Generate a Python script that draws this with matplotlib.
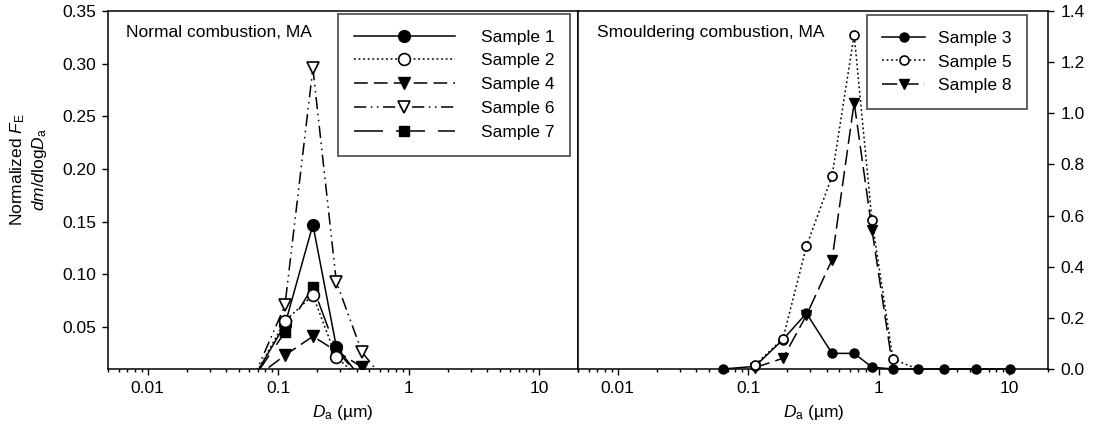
import numpy as np
import matplotlib
matplotlib.use("Agg")
import matplotlib.pyplot as plt
from matplotlib.ticker import FixedLocator, FuncFormatter

plt.rcParams['font.family'] = ['Liberation Sans', 'DejaVu Sans']
plt.rcParams['mathtext.fontset'] = 'custom'
plt.rcParams['mathtext.rm'] = 'Liberation Sans'
plt.rcParams['mathtext.it'] = 'Liberation Sans:italic'

# impactor stage diameters (um)
stage_d = [0.064, 0.113, 0.185, 0.28, 0.44, 0.65, 0.89, 1.29, 2.0, 3.2, 5.6, 10.2]

# normal combustion (first six stages)
normal_d = stage_d[:6]
sample1 = [0.0, 0.052, 0.147, 0.031, 0.0, 0.0]
sample2 = [0.0, 0.0555, 0.080, 0.021, 0.0, 0.0]
sample4 = [0.0, 0.023, 0.041, 0.027, 0.0117, 0.0]
sample6 = [0.0, 0.0704, 0.2955, 0.0926, 0.026, 0.0]
sample7 = [0.0, 0.045, 0.088, 0.028, 0.0, 0.0]

# smouldering combustion
sample3 = [0.0, 0.01, 0.115, 0.218, 0.061, 0.061, 0.007, 0.0, 0.0, 0.0, 0.0, 0.0]
sample5_d = stage_d[1:9]
sample5 = [0.016, 0.118, 0.48, 0.754, 1.307, 0.582, 0.038, 0.0]
sample8_d = stage_d[1:8]
sample8 = [0.005, 0.042, 0.21, 0.427, 1.042, 0.545, 0.0]

fig = plt.figure(figsize=(10.99, 4.30), dpi=100)
ax1 = fig.add_axes([0.0985, 0.1419, 0.4277, 0.8326])
ax2 = fig.add_axes([0.5262, 0.1419, 0.4277, 0.8326])

lw = 1.1
fs = 12.5

# left panel
ax1.plot(normal_d, sample7, color='black', lw=lw, dashes=(19, 8.5), marker='s', ms=7,
         mfc='black', mec='black', label='Sample 7', zorder=2)
ax1.plot(normal_d, sample4, color='black', lw=lw, dashes=(9, 4), marker='v', ms=8.5,
         mfc='black', mec='black', label='Sample 4', zorder=3)
ax1.plot(normal_d, sample1, color='black', lw=lw, ls='-', marker='o', ms=8.5,
         mfc='black', mec='black', label='Sample 1', zorder=4)
ax1.plot(normal_d, sample2, color='black', lw=lw, dashes=(1.2, 1.8), marker='o', ms=8.5,
         mfc='white', mec='black', mew=1.2, label='Sample 2', zorder=5)
ax1.plot(normal_d, sample6, color='black', lw=lw, dashes=(8, 3, 1, 3, 1, 3), marker='v', ms=8.5,
         mfc='white', mec='black', mew=1.2, label='Sample 6', zorder=6)

ax1.set_xscale('log')
ax1.set_xlim(0.005, 20)
ax1.set_ylim(0.01, 0.35)
ax1.yaxis.set_major_locator(FixedLocator(np.arange(0.05, 0.351, 0.05)))
ax1.yaxis.set_major_formatter(FuncFormatter(lambda v, p: f"{v:.2f}"))
ax1.text(0.038, 0.94, 'Normal combustion, MA', transform=ax1.transAxes,
         fontsize=fs, va='center', ha='left')

h, l = ax1.get_legend_handles_labels()
order = [2, 3, 1, 4, 0]
leg1 = ax1.legend([h[i] for i in order], [l[i] for i in order], loc='upper right',
                  bbox_to_anchor=(0.982, 0.992), borderaxespad=0, fontsize=fs,
                  handlelength=5.8, handletextpad=1.5, labelspacing=0.5,
                  borderpad=0.9, fancybox=False, framealpha=1)
leg1.get_frame().set_edgecolor('#555555')
leg1.get_frame().set_linewidth(1.3)

# right panel
ax2.plot(stage_d, sample3, color='black', lw=lw, ls='-', marker='o', ms=6.5,
         mfc='black', mec='black', label='Sample 3', zorder=3, clip_on=False)
ax2.plot(sample8_d, sample8, color='black', lw=lw, dashes=(10, 4), marker='v', ms=6.5,
         mfc='black', mec='black', label='Sample 8', zorder=4, clip_on=False,
         markevery=list(range(len(sample8) - 1)))
ax2.plot(sample5_d, sample5, color='black', lw=lw, dashes=(1.2, 1.8), marker='o', ms=6.5,
         mfc='white', mec='black', mew=1.2, label='Sample 5', zorder=5, clip_on=False,
         markevery=list(range(len(sample5) - 1)))

ax2.set_xscale('log')
ax2.set_xlim(0.005, 20)
ax2.set_ylim(0, 1.4)
ax2.yaxis.tick_right()
ax2.yaxis.set_major_locator(FixedLocator(np.arange(0, 1.41, 0.2)))
ax2.yaxis.set_major_formatter(FuncFormatter(lambda v, p: f"{v:.1f}"))
ax2.text(0.04, 0.94, 'Smouldering combustion, MA', transform=ax2.transAxes,
         fontsize=fs, va='center', ha='left')

h, l = ax2.get_legend_handles_labels()
order = [0, 2, 1]
leg2 = ax2.legend([h[i] for i in order], [l[i] for i in order], loc='upper right',
                  bbox_to_anchor=(0.955, 0.989), borderaxespad=0, fontsize=fs,
                  handlelength=2.45, handletextpad=0.75, labelspacing=0.5,
                  borderpad=0.9, fancybox=False, framealpha=1)
leg2.get_frame().set_edgecolor('#555555')
leg2.get_frame().set_linewidth(1.3)

for ax in (ax1, ax2):
    ax.xaxis.set_major_formatter(FuncFormatter(lambda v, p: f"{v:g}"))
    ax.tick_params(which='major', direction='out', length=4.5, width=1, labelsize=fs, pad=4)
    ax.tick_params(which='minor', direction='out', length=2.5, width=1)
    ax.tick_params(axis='y', which='minor', length=0)
    for s in ax.spines.values():
        s.set_linewidth(1.1)
    ax.set_xlabel(r'$\mathit{D}_{\mathrm{a}}$ (µm)', fontsize=fs, labelpad=5)

fig.text(0.026, 0.605, 'Normalized $\\mathit{F}_{\\mathrm{E}}$\n'
         '$\\mathit{dm/d}\\mathrm{log}\\mathit{D}_{\\mathrm{a}}$',
         rotation=90, ha='center', va='center', fontsize=fs, multialignment='center')

fig.savefig('out.png', dpi=100)
